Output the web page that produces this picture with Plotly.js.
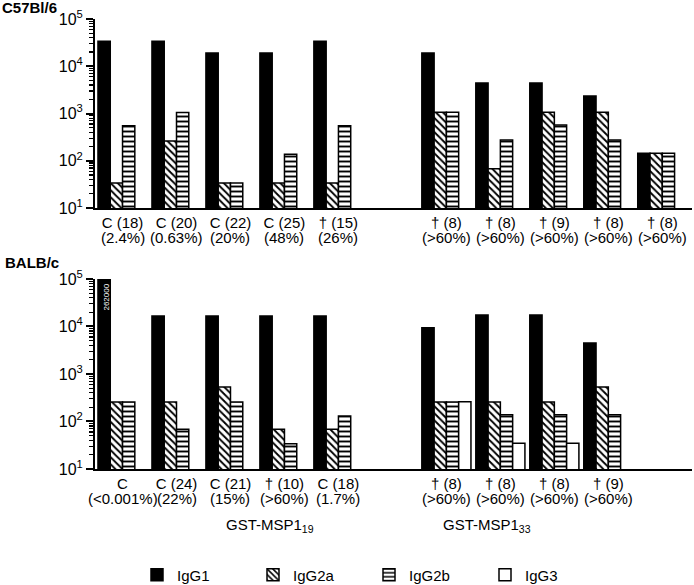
<!DOCTYPE html>
<html>
<head>
<meta charset="utf-8">
<script src="https://cdn.plot.ly/plotly-3.0.1.min.js"></script>
<style>html,body{margin:0;padding:0;background:#fff;}#chart{width:694px;height:585px;}</style>
</head>
<body>
<div id="chart"></div>
<script>
// ---- data ----
var groupIds = ['g1','g2','g3','g4','g5','sp','g6','g7','g8','g9','g10'];
var barIds = ['g1','g2','g3','g4','g5','g6','g7','g8','g9','g10'];

var topLine1 = ['C (18)','C (20)','C (22)','C (25)','\u2020 (15)','','\u2020 (8)','\u2020 (8)','\u2020 (9)','\u2020 (8)','\u2020 (8)'];
var topLine2 = ['(2.4%)','(0.63%)','(20%)','(48%)','(26%)','','(>60%)','(>60%)','(>60%)','(>60%)','(>60%)'];
var botLine1 = ['C','C (24)','C (21)','\u2020 (10)','C (18)','','\u2020 (8)','\u2020 (8)','\u2020 (8)','\u2020 (9)',''];
var botLine2 = ['(<0.001%)','(22%)','(15%)','(>60%)','(1.7%)','','(>60%)','(>60%)','(>60%)','(>60%)',''];

var topIgG1  = [34000, 34000, 19000, 19000, 34000, 19000, 4400, 4400, 2350, 145];
var topIgG2a = [34, 263, 34, 34, 34, 1070, 68, 1070, 1070, 145];
var topIgG2b = [550, 1050, 34, 138, 550, 1070, 275, 570, 275, 145];
var topIgG3  = [null, null, null, null, null, null, null, null, null, null];

var botIgG1  = [262000, 16600, 16600, 16600, 16600, 9400, 17500, 17500, 4500, null];
var botIgG2a = [257, 257, 530, 69, 69, 257, 257, 257, 530, null];
var botIgG2b = [257, 69, 257, 34, 130, 257, 138, 138, 138, null];
var botIgG3  = [null, null, null, null, null, 260, 35, 35, null, null];

var yTickVals = [10, 100, 1000, 10000, 100000];
var yTickText = ['10<sup>1</sup>','10<sup>2</sup>','10<sup>3</sup>','10<sup>4</sup>','10<sup>5</sup>'];

var seriesNames = ['IgG1','IgG2a','IgG2b','IgG3'];
var clippedLabel = '262000';

// ---- styles ----
var FONT = 'Liberation Sans, Arial, Helvetica, sans-serif';
var styles = [
  {color:'black', pattern:{shape:''}},
  {color:'white', pattern:{shape:'\\', fgcolor:'black', bgcolor:'white', size:5, solidity:0.38}},
  {color:'white', pattern:{shape:'-', fgcolor:'black', bgcolor:'white', size:5, solidity:0.38}},
  {color:'white', pattern:{shape:''}}
];

function mk(vals, i, xa, ya, show) {
  return {
    type:'bar', x: barIds, y: vals, name: seriesNames[i], xaxis: xa, yaxis: ya,
    showlegend: show, legendgroup: seriesNames[i],
    marker: {color: styles[i].color, pattern: styles[i].pattern, line:{color:'black', width:1.5}},
    hoverinfo:'skip'
  };
}

var topSets = [topIgG1, topIgG2a, topIgG2b, topIgG3];
var botSets = [botIgG1, botIgG2a, botIgG2b, botIgG3];
var data = [];
topSets.forEach(function(v,i){ data.push(mk(v,i,'x','y',false)); });
botSets.forEach(function(v,i){ data.push(mk(v,i,'x2','y2',true)); });

function xax(line1, anchor) {
  return {
    domain:[0.1369, 0.9971], anchor: anchor, type:'category',
    categoryorder:'array', categoryarray: groupIds,
    range:[-0.51, 10.55], showline:true, linewidth:2, linecolor:'black',
    ticks:'', tickmode:'array', tickvals: groupIds, ticktext: line1,
    tickfont:{family:FONT, size:15, color:'black'}, showgrid:false, zeroline:false, fixedrange:true
  };
}
function yax(dom, anchor) {
  return {
    domain: dom, anchor: anchor, type:'log', range:[1,5],
    showline:true, linewidth:2, linecolor:'black',
    ticks:'outside', ticklen:7, tickwidth:2, tickcolor:'black',
    tickmode:'array', tickvals: yTickVals, ticktext: yTickText,
    tickfont:{family:FONT, size:16, color:'black'},
    minor:{ticks:'outside', ticklen:4, tickwidth:1.2, tickcolor:'black', dtick:'D1', showgrid:false},
    showgrid:false, zeroline:false, fixedrange:true
  };
}

var annotations = [];
function addLine2(arr, y, xa) {
  arr.forEach(function(t, i){
    if (!t) return;
    annotations.push({x: groupIds[i], xref: xa, y: y, yref:'paper', text: t, showarrow:false,
      yanchor:'middle', xanchor:'center', font:{family:FONT, size:15, color:'black'}});
  });
}
addLine2(topLine2, 1 - 237/585, 'x');
addLine2(botLine2, 1 - 498/585, 'x2');

annotations.push({x:0, xref:'paper', xanchor:'left', y:1-8/585, yref:'paper', yanchor:'middle',
  text:'<b>C57Bl/6</b>', showarrow:false, font:{family:FONT, size:15, color:'black'}});
annotations.push({x:3/694, xref:'paper', xanchor:'left', y:1-262/585, yref:'paper', yanchor:'middle',
  text:'<b>BALB/c</b>', showarrow:false, font:{family:FONT, size:15, color:'black'}});
annotations.push({x:224/694, xref:'paper', y:1-525/585, yref:'paper', yanchor:'middle',
  text:'GST-MSP1<sub>19</sub>', showarrow:false, font:{family:FONT, size:15, color:'black'}});
annotations.push({x:533/694, xref:'paper', y:1-525/585, yref:'paper', yanchor:'middle',
  text:'GST-MSP1<sub>33</sub>', showarrow:false, font:{family:FONT, size:15, color:'black'}});
annotations.push({x: barIds[0], xref:'x2', xshift:-17, y:1-297/585, yref:'paper', yanchor:'middle',
  text: clippedLabel, textangle:-90, showarrow:false, font:{family:FONT, size:8, color:'white'}});

var layout = {
  width:694, height:585, margin:{l:0, r:0, t:0, b:0, autoexpand:false},
  paper_bgcolor:'white', plot_bgcolor:'white',
  barmode:'group', bargap:0.09, bargroupgap:0,
  xaxis: xax(topLine1, 'y'),
  yaxis: yax([0.6444, 0.9675], 'x'),
  xaxis2: xax(botLine1, 'y2'),
  yaxis2: yax([0.1983, 0.5231], 'x2'),
  showlegend:true,
  legend:{orientation:'h', x:137/694, xanchor:'left', y:1-575/585, yanchor:'middle',
    entrywidth:71, entrywidthmode:'pixels', font:{family:FONT, size:15, color:'black'},
    bgcolor:'rgba(0,0,0,0)', traceorder:'normal'},
  annotations: annotations
};

Plotly.newPlot('chart', data, layout, {staticPlot:true, displayModeBar:false});
</script>
</body>
</html>
